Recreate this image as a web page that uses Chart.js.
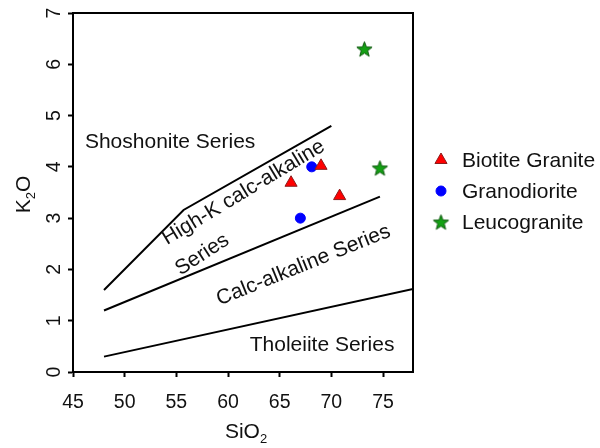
<!DOCTYPE html>
<html>
<head>
<meta charset="utf-8">
<script src="https://cdn.jsdelivr.net/npm/chart.js@4.4.1/dist/chart.umd.min.js"></script>
<style>
  html, body { margin: 0; padding: 0; background: #fff; }
  #wrap { width: 600px; height: 448px; }
</style>
</head>
<body>
<div id="wrap"><canvas id="myChart"></canvas></div>
<script>
// sample analyses, SiO2 vs K2O (wt%)
const biotiteSiO2 = [66.1, 69.0, 70.8];
const biotiteK2O = [3.69, 4.02, 3.43];
const granodioriteSiO2 = [68.1, 67.0];
const granodioriteK2O = [4.0, 3.0];
const leucoSiO2 = [73.2, 74.7];
const leucoK2O = [6.3, 3.98];

// series boundary lines
const shoshoniteLineX = [48, 55.7, 70];
const shoshoniteLineY = [1.6, 3.16, 4.8];
const highKLineX = [48, 74.7];
const highKLineY = [1.2, 3.42];
const tholeiiteLineX = [48, 77.9];
const tholeiiteLineY = [0.3, 1.62];

// axis ticks
const xTickValues = [45, 50, 55, 60, 65, 70, 75];
const yTickValues = [0, 1, 2, 3, 4, 5, 6, 7];

const legendNames = ["Biotite Granite", "Granodiorite", "Leucogranite"];

const regionLabels = [
  { text: "Shoshonite Series", x: 54.4, y: 4.48, angle: 0 },
  { text: "High-K calc-alkaline", x: 61.5, y: 3.5, angle: -31 },
  { text: "Series", x: 57.5, y: 2.29, angle: -33 },
  { text: "Calc-alkaline Series", x: 67.3, y: 2.08, angle: -22 },
  { text: "Tholeiite Series", x: 69.1, y: 0.52, angle: 0 },
];

const FONT = '"Liberation Sans", Arial, sans-serif';
Chart.defaults.font.family = FONT;

const toPoints = (xs, ys) => xs.map((v, i) => ({ x: v, y: ys[i] }));

// filled five point star used as a point style
function makeStar(r, fill, stroke) {
  const c = document.createElement("canvas");
  const size = Math.ceil(r * 2 + 3);
  c.width = size;
  c.height = size;
  const g = c.getContext("2d");
  const cx = size / 2, cy = size / 2 + 0.8;
  g.beginPath();
  for (let i = 0; i < 10; i++) {
    const rad = i % 2 === 0 ? r : r * 0.42;
    const a = -Math.PI / 2 + (i * Math.PI) / 5;
    const px = cx + rad * Math.cos(a), py = cy + rad * Math.sin(a);
    if (i === 0) g.moveTo(px, py); else g.lineTo(px, py);
  }
  g.closePath();
  g.fillStyle = fill;
  g.fill();
  g.lineWidth = 1;
  g.strokeStyle = stroke;
  g.stroke();
  return c;
}
const starImg = makeStar(8, "#14a014", "#0b560b");

const lineStyle = {
  showLine: true,
  borderColor: "#000",
  borderWidth: 2,
  pointRadius: 0,
  fill: false,
  tension: 0,
};

const drawExtras = {
  id: "drawExtras",
  afterDraw(chart) {
    const { ctx, chartArea: a, scales: { x, y } } = chart;
    ctx.save();

    // frame around plot
    ctx.strokeStyle = "#000";
    ctx.lineWidth = 2;
    ctx.strokeRect(a.left, a.top, a.right - a.left, a.bottom - a.top);

    // rotated y tick labels
    ctx.fillStyle = "#111";
    ctx.font = "19.5px " + FONT;
    ctx.textAlign = "center";
    ctx.textBaseline = "middle";
    y.ticks.forEach((t) => {
      ctx.save();
      ctx.translate(a.left - 18, y.getPixelForValue(t.value));
      ctx.rotate(-Math.PI / 2);
      ctx.fillText(String(t.value), 0, 0);
      ctx.restore();
    });

    // region names
    ctx.font = "21px " + FONT;
    regionLabels.forEach((l) => {
      ctx.save();
      ctx.translate(x.getPixelForValue(l.x), y.getPixelForValue(l.y));
      ctx.rotate((l.angle * Math.PI) / 180);
      ctx.fillText(l.text, 0, 0);
      ctx.restore();
    });

    // axis titles with subscripts
    const big = "21px " + FONT, small = "13px " + FONT;
    function subTitle(parts, cx, cy, rot) {
      ctx.save();
      ctx.translate(cx, cy);
      ctx.rotate(rot);
      let total = 0;
      parts.forEach((p) => { ctx.font = p.sub ? small : big; total += ctx.measureText(p.t).width; });
      let px = -total / 2;
      ctx.textAlign = "left";
      parts.forEach((p) => {
        ctx.font = p.sub ? small : big;
        ctx.fillText(p.t, px, p.sub ? 7 : 0);
        px += ctx.measureText(p.t).width;
      });
      ctx.restore();
    }
    subTitle([{ t: "SiO" }, { t: "2", sub: true }], (a.left + a.right) / 2 + 3, 432, 0);
    subTitle([{ t: "K" }, { t: "2", sub: true }, { t: "O" }], 24, (a.top + a.bottom) / 2 + 2, -Math.PI / 2);

    // legend
    const rows = [160, 191, 222];
    chart.data.datasets.filter((d) => d.inLegend).forEach((d, i) => {
      ctx.fillStyle = d.backgroundColor;
      ctx.strokeStyle = d.borderColor;
      ctx.lineWidth = d.borderWidth;
      Chart.helpers.drawPoint(ctx, {
        pointStyle: d.pointStyle,
        radius: d.pointRadius,
        rotation: 0,
        borderWidth: d.borderWidth,
      }, 441, rows[i]);
      ctx.fillStyle = "#111";
      ctx.font = "21px " + FONT;
      ctx.textAlign = "left";
      ctx.textBaseline = "middle";
      ctx.fillText(legendNames[i], 462, rows[i] + 1);
    });

    ctx.restore();
  },
};

const ctx = document.getElementById("myChart");

const myChart = new Chart(ctx, {
  type: "scatter",
  data: {
    datasets: [
      { ...lineStyle, data: toPoints(shoshoniteLineX, shoshoniteLineY) },
      { ...lineStyle, data: toPoints(highKLineX, highKLineY) },
      { ...lineStyle, data: toPoints(tholeiiteLineX, tholeiiteLineY) },
      {
        label: legendNames[0],
        inLegend: true,
        data: toPoints(biotiteSiO2, biotiteK2O),
        pointStyle: "triangle",
        pointRadius: 7,
        backgroundColor: "#ff0000",
        borderColor: "#8a1c1c",
        borderWidth: 1,
      },
      {
        label: legendNames[1],
        inLegend: true,
        data: toPoints(granodioriteSiO2, granodioriteK2O),
        pointStyle: "circle",
        pointRadius: 5,
        backgroundColor: "#0000ff",
        borderColor: "#0000ff",
        borderWidth: 1,
      },
      {
        label: legendNames[2],
        inLegend: true,
        data: toPoints(leucoSiO2, leucoK2O),
        pointStyle: starImg,
        pointRadius: 8,
        backgroundColor: "#14a014",
        borderColor: "#0b560b",
        borderWidth: 1,
      },
    ],
  },
  options: {
    responsive: true,
    maintainAspectRatio: false,
    animation: false,
    layout: { padding: { top: 13, right: 187, left: 0, bottom: 0 } },
    plugins: {
      legend: { display: false },
      tooltip: { enabled: false },
    },
    scales: {
      x: {
        type: "linear",
        min: 45,
        max: 77.9,
        afterBuildTicks: (s) => { s.ticks = xTickValues.map((v) => ({ value: v })); },
        afterFit: (s) => { s.height = 76; },
        ticks: { color: "#111", font: { size: 19.5 }, padding: 14 },
        grid: { drawOnChartArea: false, drawTicks: true, tickLength: 5, tickColor: "#000", tickWidth: 2 },
        border: { color: "#000", width: 2 },
      },
      y: {
        type: "linear",
        min: 0,
        max: 7,
        afterBuildTicks: (s) => { s.ticks = yTickValues.map((v) => ({ value: v })); },
        afterFit: (s) => { s.width = 73; },
        ticks: { display: false },
        grid: { drawOnChartArea: false, drawTicks: true, tickLength: 5, tickColor: "#000", tickWidth: 2 },
        border: { color: "#000", width: 2 },
      },
    },
  },
  plugins: [drawExtras],
});
</script>
</body>
</html>
